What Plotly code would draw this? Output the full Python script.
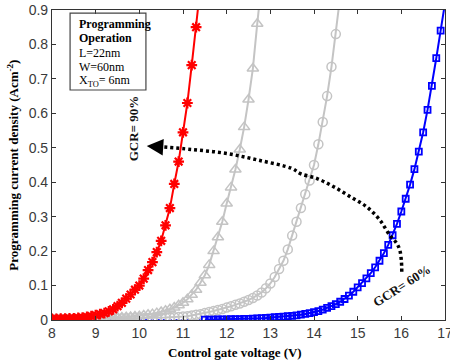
import plotly.graph_objects as go

# ---------------- data ----------------
red_v = [8.0, 8.1, 8.2, 8.3, 8.4, 8.5, 8.6, 8.7, 8.8, 8.9, 9.0, 9.1, 9.2, 9.3, 9.4, 9.5, 9.6, 9.7,
         9.8, 9.9, 10.0, 10.1, 10.2, 10.3, 10.4, 10.5, 10.6, 10.7, 10.8, 10.9, 11.0, 11.1, 11.2, 11.3, 11.4]
red_j = [0.003, 0.003, 0.004, 0.004, 0.005, 0.005, 0.006, 0.007, 0.009, 0.011, 0.014, 0.017, 0.020,
         0.025, 0.031, 0.040, 0.050, 0.062, 0.074, 0.088, 0.100, 0.120, 0.145, 0.168, 0.197, 0.230,
         0.275, 0.325, 0.395, 0.460, 0.545, 0.630, 0.740, 0.850, 0.970]

tri_v = [8.0, 8.1, 8.2, 8.3, 8.4, 8.5, 8.6, 8.7, 8.8, 8.9, 9.0, 9.1, 9.2, 9.3, 9.4, 9.5, 9.6, 9.7,
         9.8, 9.9, 10.0, 10.1, 10.2, 10.3, 10.4, 10.5, 10.6, 10.7, 10.8, 10.9, 11.0, 11.1, 11.2, 11.3,
         11.4, 11.5, 11.6, 11.7, 11.8, 11.9, 12.0, 12.1, 12.2, 12.3, 12.4, 12.5, 12.6, 12.7, 12.8]
tri_j = [0.002, 0.002, 0.002, 0.002, 0.003, 0.003, 0.003, 0.003, 0.004, 0.004, 0.004, 0.005, 0.005,
         0.006, 0.006, 0.007, 0.007, 0.008, 0.009, 0.010, 0.011, 0.013, 0.015, 0.017, 0.020, 0.023,
         0.027, 0.031, 0.036, 0.043, 0.050, 0.060, 0.073, 0.088, 0.108, 0.130, 0.160, 0.200, 0.240,
         0.285, 0.338, 0.385, 0.437, 0.495, 0.560, 0.640, 0.730, 0.860, 0.980]

cir_v = [8.0, 8.1, 8.2, 8.3, 8.4, 8.5, 8.6, 8.7, 8.8, 8.9, 9.0, 9.1, 9.2, 9.3, 9.4, 9.5, 9.6, 9.7,
         9.8, 9.9, 10.0, 10.1, 10.2, 10.3, 10.4, 10.5, 10.6, 10.7, 10.8, 10.9, 11.0, 11.1, 11.2, 11.3,
         11.4, 11.5, 11.6, 11.7, 11.8, 11.9, 12.0, 12.1, 12.2, 12.3, 12.4, 12.5, 12.6, 12.7, 12.8,
         12.9, 13.0, 13.1, 13.2, 13.3, 13.4, 13.5, 13.6, 13.7, 13.8, 13.9, 14.0, 14.1, 14.2, 14.3,
         14.4, 14.5, 14.6]
cir_j = [0.002, 0.002, 0.002, 0.002, 0.002, 0.002, 0.002, 0.003, 0.003, 0.003, 0.003, 0.003, 0.003,
         0.004, 0.004, 0.004, 0.004, 0.004, 0.005, 0.005, 0.005, 0.005, 0.006, 0.006, 0.006, 0.007,
         0.007, 0.008, 0.008, 0.009, 0.010, 0.011, 0.013, 0.015, 0.017, 0.020, 0.023, 0.026, 0.029,
         0.032, 0.036, 0.040, 0.044, 0.048, 0.053, 0.058, 0.064, 0.071, 0.080, 0.092, 0.106, 0.125,
         0.148, 0.172, 0.205, 0.245, 0.285, 0.325, 0.365, 0.405, 0.450, 0.510, 0.575, 0.650, 0.735,
         0.830, 0.940]

blue_v = [11.5, 11.6, 11.7, 11.8, 11.9, 12.0, 12.1, 12.2, 12.3, 12.4, 12.5, 12.6, 12.7, 12.8, 12.9,
          13.0, 13.1, 13.2, 13.3, 13.4, 13.5, 13.6, 13.7, 13.8, 13.9, 14.0, 14.1, 14.2, 14.3, 14.4,
          14.5, 14.6, 14.7, 14.8, 14.9, 15.0, 15.1, 15.2, 15.3, 15.4, 15.5, 15.6, 15.7, 15.8, 15.9,
          16.0, 16.1, 16.2, 16.3, 16.4, 16.5, 16.6, 16.7, 16.8, 16.9, 17.0]
blue_j = [0.0010, 0.0012, 0.0013, 0.0015, 0.0017, 0.0020, 0.0022, 0.0025, 0.0028, 0.0031, 0.0035,
          0.0040, 0.0045, 0.0052, 0.0060, 0.0070, 0.0080, 0.0088, 0.0097, 0.0110, 0.0120, 0.0136,
          0.0155, 0.0175, 0.0200, 0.0230, 0.0260, 0.0300, 0.0350, 0.0400, 0.0460, 0.0530, 0.0610,
          0.0710, 0.0820, 0.0950, 0.1070, 0.1210, 0.1360, 0.1530, 0.1720, 0.1940, 0.2180, 0.2460,
          0.2790, 0.3150, 0.3520, 0.3930, 0.4380, 0.4890, 0.5450, 0.6100, 0.6800, 0.7600, 0.8400,
          0.9200]

blue_low_v = [9.3, 9.6, 9.9, 10.2, 10.5, 10.8, 11.1, 11.4]
blue_low_j = [0.0008, 0.0008, 0.0008, 0.0009, 0.0009, 0.0009, 0.0010, 0.0010]

arrow_x = [16.01, 16.00, 15.96, 15.88, 15.74, 15.51, 15.21, 14.83, 14.45, 14.06, 13.69, 13.49,
           12.73, 11.97, 11.20, 10.48]
arrow_y = [0.140, 0.173, 0.205, 0.225, 0.245, 0.290, 0.328, 0.358, 0.387, 0.411, 0.425, 0.440,
           0.464, 0.484, 0.495, 0.503]

x_ticks = [8, 9, 10, 11, 12, 13, 14, 15, 16, 17]
x_labels = ["8", "9", "10", "11", "12", "13", "14", "15", "16", "17"]
y_ticks = [0, 0.1, 0.2, 0.3, 0.4, 0.5, 0.6, 0.7, 0.8, 0.9]
y_labels = ["0", "0.1", "0.2", "0.3", "0.4", "0.5", "0.6", "0.7", "0.8", "0.9"]

RED = "#ff0000"
GRAY = "#c4c4c4"
BLUE = "#0000ff"
SERIF = "Liberation Serif, Times New Roman, serif"
SANS = "Liberation Sans, Arial, sans-serif"

fig = go.Figure()

fig.add_trace(go.Scatter(x=blue_low_v, y=blue_low_j, mode="lines",
                         line=dict(color=BLUE, width=1, dash="dot"), hoverinfo="skip"))
fig.add_trace(go.Scatter(x=cir_v, y=cir_j, mode="lines+markers",
                         line=dict(color=GRAY, width=2),
                         marker=dict(symbol="circle-open", size=9, color=GRAY, line=dict(width=1.5, color=GRAY))))
fig.add_trace(go.Scatter(x=tri_v, y=tri_j, mode="lines+markers",
                         line=dict(color=GRAY, width=2),
                         marker=dict(symbol="triangle-up-open", size=10, color=GRAY, line=dict(width=1.5, color=GRAY))))
fig.add_trace(go.Scatter(x=blue_v, y=blue_j, mode="lines+markers",
                         line=dict(color=BLUE, width=2),
                         marker=dict(symbol="square-open", size=6, color=BLUE, line=dict(width=1.8, color=BLUE))))
fig.add_trace(go.Scatter(x=red_v, y=red_j, mode="lines+markers",
                         line=dict(color=RED, width=2),
                         marker=dict(symbol="asterisk-open", size=9, color=RED, line=dict(width=2.2, color=RED))))
fig.add_trace(go.Scatter(x=arrow_x, y=arrow_y, mode="lines",
                         line=dict(color="black", width=3.5, dash="3px,3px", shape="spline"),
                         hoverinfo="skip"))

fig.update_layout(
    width=450, height=364,
    margin=dict(l=52, r=5, t=10, b=44, autoexpand=False),
    paper_bgcolor="white", plot_bgcolor="white",
    showlegend=False,
    font=dict(family=SANS, size=14, color="#3a3a3a"),
)
fig.update_xaxes(range=[8, 17], tickvals=x_ticks, ticktext=x_labels, ticks="inside", ticklen=4,
                 tickcolor="#333", showline=True, linecolor="#333", linewidth=1.2, mirror="ticks",
                 showgrid=False, zeroline=False, ticklabeloverflow="allow", automargin=False,
                 tickfont=dict(family=SANS, size=14, color="#3a3a3a"))
fig.update_yaxes(range=[0, 0.9], tickvals=y_ticks, ticktext=y_labels, ticks="inside", ticklen=4,
                 tickcolor="#333", showline=True, linecolor="#333", linewidth=1.2, mirror="ticks",
                 showgrid=False, zeroline=False, ticklabeloverflow="allow", automargin=False,
                 tickfont=dict(family=SANS, size=14, color="#3a3a3a"))

ann = []
# axis titles
ann.append(dict(text="<b>Control gate voltage (V)</b>", xref="paper", yref="paper", x=0.465, y=-0.105,
                xanchor="center", yanchor="middle", showarrow=False,
                font=dict(family=SERIF, size=13, color="black")))
ann.append(dict(text="<b>Programming current density (Acm<sup>-2</sup>)</b>", xref="paper", yref="paper",
                x=-0.1, y=0.5, xanchor="center", yanchor="middle", textangle=-90, showarrow=False,
                font=dict(family=SERIF, size=13, color="black")))
# inset text box
box_lines = [("<b>Programming</b>", 0.955), ("<b>Operation</b>", 0.91), ("L=22nm", 0.861),
             ("W=60nm", 0.815), ("X<sub>TO</sub>= 6nm", 0.77)]
for txt, yy in box_lines:
    ann.append(dict(text=txt, xref="paper", yref="paper", x=0.063, y=yy, xanchor="left",
                    yanchor="middle", showarrow=False, font=dict(family=SERIF, size=12, color="black")))
# GCR labels
ann.append(dict(text="<b>GCR= 90%</b>", x=9.86, y=0.557, xref="x", yref="y", textangle=-90,
                showarrow=False, font=dict(family=SERIF, size=13, color="#111")))
ann.append(dict(text="<b>GCR= 60%</b>", x=16.02, y=0.10, xref="x", yref="y", textangle=-33,
                showarrow=False, font=dict(family=SERIF, size=13, color="#111")))
# arrow head
ann.append(dict(text="", x=10.17, y=0.505, ax=10.40, ay=0.503, xref="x", yref="y", axref="x", ayref="y",
                showarrow=True, arrowhead=2, arrowsize=1.1, arrowwidth=3, arrowcolor="black"))
fig.update_layout(annotations=ann)

fig.add_shape(type="rect", xref="paper", yref="paper", x0=0.046, x1=0.239, y0=0.742, y1=0.99,
              line=dict(color="#444", width=1.2), fillcolor="rgba(0,0,0,0)")

fig.write_html("out.html", config={"displayModeBar": False},
               post_script="document.body.style.margin='0';document.body.style.padding='0';"
                           "document.body.style.overflow='hidden';")
